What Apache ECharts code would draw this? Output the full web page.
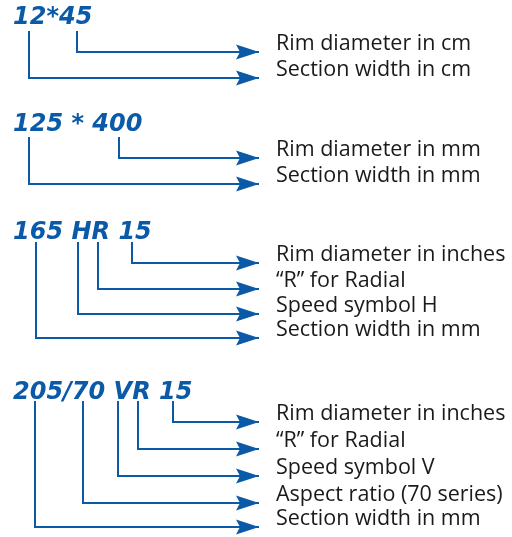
<!DOCTYPE html>
<html>
<head>
<meta charset="utf-8">
<script src="https://cdn.jsdelivr.net/npm/echarts@6/dist/echarts.min.js"></script>
<style>
html, body { margin: 0; padding: 0; background: #fff; }
#tyres { width: 512px; height: 537px; }
</style>
</head>
<body>
<div id="tyres"></div>
<script>
// Size codes and the vertical centre of each code line
var codes = ['12*45', '125 * 400', '165 HR 15', '205/70 VR 15'];
var codeY = [18, 124.5, 232.5, 392.5];

// Leaders: where each stem starts under the code, where it turns right
var stemTop = [31, 137, 242, 401];
var stemX = [
    [77, 29],
    [119, 29],
    [132, 98, 78, 36],
    [173, 138, 118, 83, 35]
];
var stemY = [
    [52, 78],
    [158, 184],
    [263, 289, 314, 338],
    [422, 449, 476, 503, 527]
];
var meanings = [
    ['Rim diameter in cm', 'Section width in cm'],
    ['Rim diameter in mm', 'Section width in mm'],
    ['Rim diameter in inches', '\u201cR\u201d for Radial', 'Speed symbol H', 'Section width in mm'],
    ['Rim diameter in inches', '\u201cR\u201d for Radial', 'Speed symbol V', 'Aspect ratio (70 series)', 'Section width in mm']
];

var codeLeft = 13;
var arrowEnd = 259;
var textLeft = 276;
var blue = '#0a5aa8';

// Arrow head, tip at the centre of a 46px box so it lands on the line end
var arrowHead = 'path://M0,0 M46,46 M23,23 L30.5,46 L23,42 L15.5,46 Z';

var EchartsTyreCodes = function() {

    var _tyreCodes = function() {
        if (typeof echarts == 'undefined') {
            console.warn('Warning - echarts.min.js is not loaded.');
            return;
        }

        var el = document.getElementById('tyres');
        if (!el) return;

        var chart = echarts.init(el);

        // Build marks from the arrays above
        var stems = [], arrows = [], labels = [], titles = [];
        codes.forEach(function(code, i) {
            titles.push({ value: [codeLeft, codeY[i]], name: code });
            stemX[i].forEach(function(x, j) {
                var y = stemY[i][j];
                stems.push({ coords: [[x, stemTop[i]], [x, y]] });
                arrows.push({ coords: [[x - 1, y], [arrowEnd, y]] });
                labels.push({ value: [textLeft, y - 8], name: meanings[i][j] });
            });
        });

        chart.setOption({
            animation: false,
            grid: { left: 0, right: 0, top: 0, bottom: 0 },
            xAxis: { type: 'value', min: 0, max: 512, show: false },
            yAxis: { type: 'value', min: 0, max: 537, inverse: true, show: false },
            series: [
                {
                    name: 'stems',
                    type: 'lines',
                    coordinateSystem: 'cartesian2d',
                    symbol: 'none',
                    lineStyle: { color: blue, width: 2, opacity: 1 },
                    data: stems
                },
                {
                    name: 'arrows',
                    type: 'lines',
                    coordinateSystem: 'cartesian2d',
                    symbol: ['none', arrowHead],
                    symbolSize: [0, 46],
                    lineStyle: { color: blue, width: 2, opacity: 1 },
                    data: arrows
                },
                {
                    name: 'codes',
                    type: 'scatter',
                    symbolSize: 0,
                    itemStyle: { opacity: 1 },
                    label: {
                        show: true,
                        position: [0, 0],
                        align: 'left',
                        verticalAlign: 'middle',
                        formatter: '{b}',
                        color: blue,
                        opacity: 1,
                        fontFamily: 'DejaVu Sans',
                        fontWeight: 'bold',
                        fontStyle: 'italic',
                        fontSize: 24
                    },
                    data: titles
                },
                {
                    name: 'meanings',
                    type: 'scatter',
                    symbolSize: 0,
                    itemStyle: { opacity: 1 },
                    label: {
                        show: true,
                        position: [0, 0],
                        align: 'left',
                        verticalAlign: 'middle',
                        formatter: '{b}',
                        color: '#1a1a1a',
                        opacity: 1,
                        fontFamily: 'Open Sans',
                        fontSize: 21.5
                    },
                    data: labels
                }
            ]
        });
    };

    return {
        init: function() {
            _tyreCodes();
        }
    };
}();

document.addEventListener('DOMContentLoaded', function() {
    EchartsTyreCodes.init();
});
</script>
</body>
</html>
